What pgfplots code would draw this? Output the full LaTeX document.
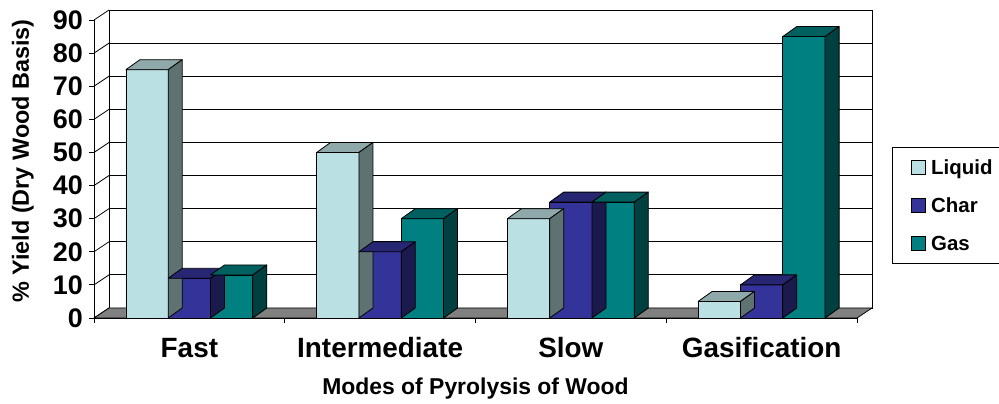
\documentclass[border=0pt]{standalone}
\usepackage{pgfplots}
\pgfplotsset{compat=1.18}
\usepackage{pgfplotstable}
\usepackage{fontspec}
\setmainfont{Liberation Sans}

\definecolor{liqF}{RGB}{187,224,227}
\definecolor{liqT}{RGB}{143,169,170}
\definecolor{liqS}{RGB}{94,114,114}
\definecolor{chaF}{RGB}{51,51,153}
\definecolor{chaT}{RGB}{38,38,115}
\definecolor{chaS}{RGB}{26,26,77}
\definecolor{gasF}{RGB}{0,128,128}
\definecolor{gasT}{RGB}{0,96,96}
\definecolor{gasS}{RGB}{0,64,64}
\definecolor{floorG}{RGB}{128,128,128}

\pgfdeclareplotmark{nothing}{}

\pgfplotstableread{
x liquid char gas
0 75 12 13
1 50 20 30
2 30 35 35
3 5 10 85
}\datatable

% #1 column, #2 shift, #3 top colour, #4 side colour
\newcommand\faces[4]{%
\addplot[forget plot, only marks, mark=nothing, scatter,
  visualization depends on={\thisrow{#1}\as\barh},
  scatter/@pre marker code/.code={%
    \pgfmathsetmacro\sideb{3.02-\barh}%
    \pgfmathsetmacro\negh{-\barh}%
    \filldraw[fill=#3, draw=black, line width=0.8bp, line join=round]
      (axis direction cs:-0.1109,0) -- (axis direction cs:0.1109,0) --
      (axis direction cs:0.1843,3.02) -- (axis direction cs:-0.0375,3.02) -- cycle;
    \filldraw[fill=#4, draw=black, line width=0.8bp, line join=round]
      (axis direction cs:0.1109,0) -- (axis direction cs:0.1843,3.02) --
      (axis direction cs:0.1843,\sideb) -- (axis direction cs:0.1109,\negh) -- cycle;
  },
  scatter/@post marker code/.code={}]
  table[x expr={\thisrow{x}+(#2)}, y=#1]{\datatable};
}

\pgfplotsset{
  sqleg/.style={legend image code/.code={%
    \path (0bp,0bp);
    \draw[##1, draw=black, line width=0.8bp] (11bp,-7bp) rectangle (25bp,7bp);}},
}

\begin{document}
\begin{tikzpicture}
\begin{axis}[
  x=190.75bp, y=3.311bp,
  xmin=-0.5, xmax=3.5, ymin=0, ymax=90,
  clip=false,
  axis x line*=bottom, axis y line*=left,
  axis line style={-, line width=0.8bp, black},
  xtick={0,1,2,3},
  xticklabels={Fast,Intermediate,Slow,Gasification},
  xtick style={draw=none},
  ytick={0,10,...,90},
  ytick style={line width=0.8bp, black},
  tick align=outside,
  major tick length=5bp,
  /pgf/number format/assume math mode=true,
  yticklabel style={font=\fontsize{27}{27}\selectfont\bfseries, inner sep=0pt, xshift=-6bp},
  xticklabel style={font=\fontsize{28}{28}\selectfont\bfseries, anchor=base, yshift=-35bp},
  every axis x label/.style={at={(axis description cs:0.5,0)}, anchor=base, yshift=-77bp,
     font=\fontsize{23}{23}\selectfont\bfseries},
  every axis y label/.style={at={(axis description cs:-0.0852,0.5268)}, anchor=base, rotate=90,
     font=\fontsize{23.5}{23.5}\selectfont\bfseries},
  xlabel={Modes of Pyrolysis of Wood},
  ylabel={\% Yield (Dry Wood Basis)},
  legend style={at={(axis description cs:1.0459,0.5738)}, anchor=north west,
     draw=black, line width=0.8bp, inner xsep=8bp, inner ysep=1.5bp,
     row sep=0pt, column sep=5bp,
     font=\fontsize{20.5}{20.5}\selectfont\bfseries,
     nodes={inner sep=0pt, text height=26.1bp, text depth=11.6bp}},
  legend cell align=left,
]
% back wall, gridlines, left wall, floor
\draw[line width=0.8bp] (axis cs:-0.4214,3.02) rectangle (axis cs:3.5786,93.02);
\pgfplotsinvokeforeach{13.02,23.02,33.02,43.02,53.02,63.02,73.02,83.02}{
  \draw[line width=0.8bp] (axis cs:-0.4214,#1) -- (axis cs:3.5786,#1);
}
\pgfplotsinvokeforeach{0,10,20,30,40,50,60,70,80,90}{
  \draw[line width=0.8bp] (axis cs:-0.5,#1) -- ++(15bp,10bp);
}
\filldraw[fill=floorG, draw=black, line width=0.8bp, line join=round]
  (axis cs:-0.5,0) -- (axis cs:3.5,0) -- (axis cs:3.5786,3.02) -- (axis cs:-0.4214,3.02) -- cycle;
% category boundary ticks
\pgfplotsinvokeforeach{-0.5,0.5,1.5,2.5,3.5}{
  \draw[line width=0.8bp] (axis cs:#1,0) -- ++(0bp,-5bp);
}

\addplot[ybar, bar width=0.2218, bar shift=-0.2218, fill=liqF, draw=black, line width=0.8bp, sqleg]
  table[x=x, y=liquid]{\datatable};
\addlegendentry{Liquid}
\faces{liquid}{-0.2218}{liqT}{liqS}
\addplot[ybar, bar width=0.2218, bar shift=0, fill=chaF, draw=black, line width=0.8bp, sqleg]
  table[x=x, y=char]{\datatable};
\addlegendentry{Char}
\faces{char}{0}{chaT}{chaS}
\addplot[ybar, bar width=0.2218, bar shift=0.2218, fill=gasF, draw=black, line width=0.8bp, sqleg]
  table[x=x, y=gas]{\datatable};
\addlegendentry{Gas}
\faces{gas}{0.2218}{gasT}{gasS}

\coordinate (bbTL) at (axis cs:-0.9928,96.04);
\coordinate (bbBR) at (axis cs:4.2444,-25.97);
\end{axis}
\pgfresetboundingbox
\path[use as bounding box] (bbTL) rectangle (bbBR);
\end{tikzpicture}
\end{document}
